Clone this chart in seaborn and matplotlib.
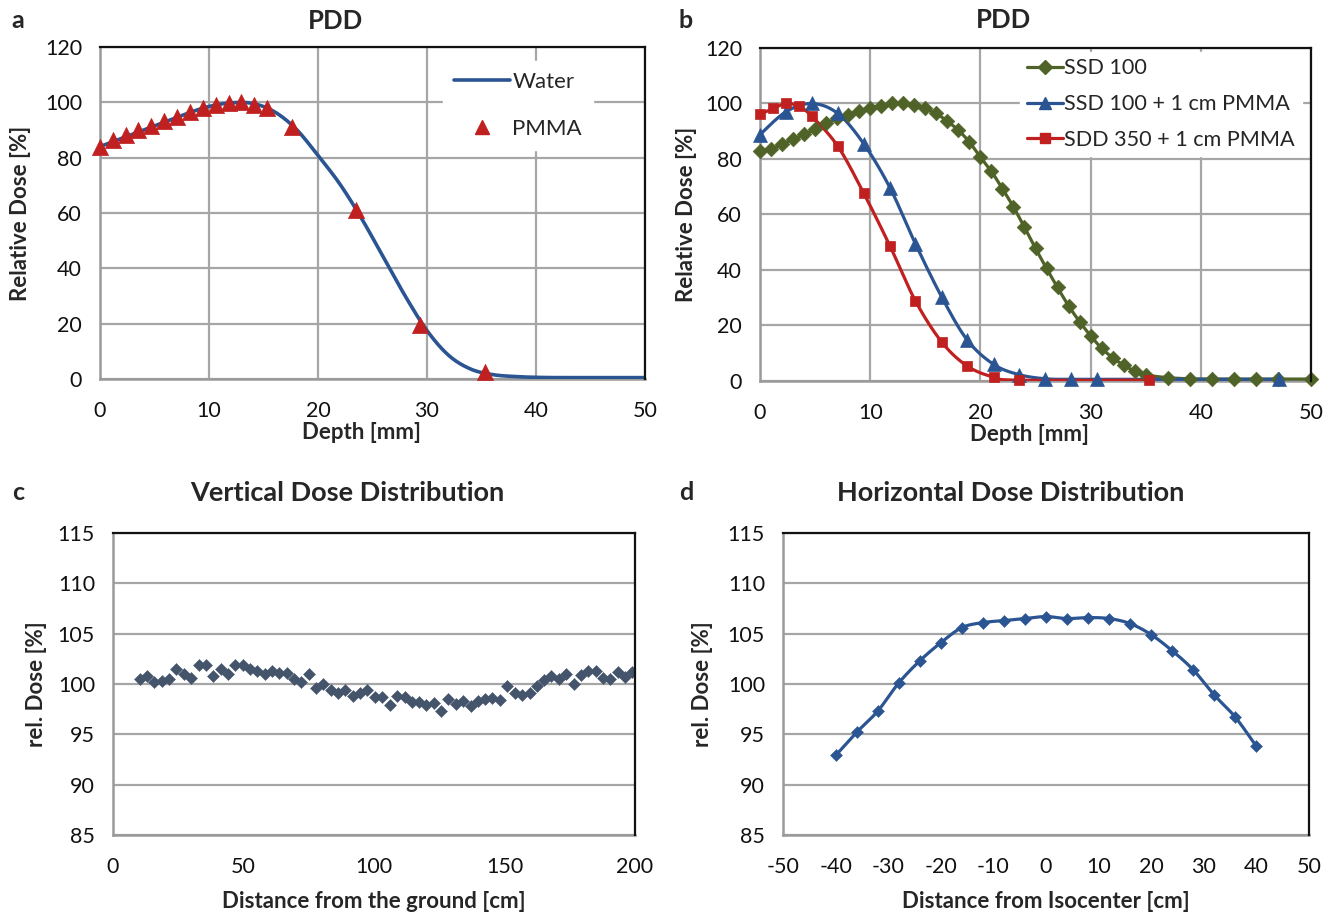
import numpy as np
import matplotlib
matplotlib.use("Agg")
import matplotlib.pyplot as plt
from matplotlib.lines import Line2D
import seaborn as sns

# ---------------- data ----------------
# Panel a: PDD water curve and PMMA points
water_depth = [0, 2, 4, 6, 8, 10, 12, 14, 16, 18, 20, 22, 24, 26, 28, 30, 32, 34, 36, 38, 40, 42, 44, 46, 48, 50]
water_dose = [84, 87, 90, 93, 96, 98.5, 99.8, 99.6, 96.6, 90.3, 80.8, 70.5, 58, 44, 30, 17.5, 8.5, 3.6, 1.6, 0.9, 0.6, 0.5, 0.5, 0.5, 0.5, 0.5]
pmma_depth = [0, 1.18, 2.35, 3.53, 4.7, 5.88, 7.06, 8.23, 9.41, 10.6, 11.8, 12.9, 14.1, 15.3, 17.6, 23.5, 29.4, 35.3]
pmma_dose = [84, 86.4, 88.2, 90, 91.6, 93.2, 94.8, 96.6, 98, 99.2, 99.9, 100.2, 99.2, 97.8, 91.2, 61.2, 19.5, 2.5]

# Panel b: three PDD series
ssd_depth = [0, 1, 2, 3, 4, 5, 6, 7, 8, 9, 10, 11, 12, 13, 14, 15, 16, 17, 18, 19, 20,
             21, 22, 23, 24, 25, 26, 27, 28, 29, 30, 31, 32, 33, 34, 35, 37, 39, 41, 43, 45, 47, 50]
ssd_dose = [82.9, 83.7, 85.3, 87.1, 88.9, 90.7, 92.8, 94.6, 95.8, 97.3, 98.4, 99.2, 100, 100, 99.6,
            98.2, 96.4, 93.6, 90.4, 86.1, 80.7, 75.5, 69.3, 62.7, 55.4, 47.8, 40.6, 33.7, 27.1,
            21.4, 16.3, 11.8, 8.4, 5.7, 3.6, 2.2, 1.2, 0.8, 0.7, 0.7, 0.7, 0.7, 0.7]
pmma1_depth = [0, 2.35, 4.7, 7.06, 9.41, 11.8, 14.1, 16.5, 18.8, 21.2, 23.5, 25.9, 28.2, 30.6, 47.1]
pmma1_dose = [88.8, 97, 100, 96.4, 85.5, 69.6, 49.5, 30.2, 14.8, 6.0, 2.3, 0.8, 0.6, 0.6, 0.6]
sdd_depth = [0, 1.18, 2.35, 3.53, 4.7, 7.06, 9.41, 11.8, 14.1, 16.5, 18.8, 21.2, 23.5, 35.3]
sdd_dose = [96.1, 98.2, 100, 99.0, 95.4, 84.6, 67.7, 48.6, 28.9, 14.0, 5.4, 1.4, 0.3, 0.3]

# Panel c: vertical dose distribution
vert_dist = [10.2, 13.0, 15.8, 18.6, 21.4, 24.3, 27.1, 30.0, 32.8, 35.6, 38.4, 41.2, 44.0, 46.9,
             49.7, 52.5, 55.3, 58.1, 60.9, 63.7, 66.5, 69.3, 72.2, 75.0, 77.8, 80.6, 83.4, 86.2,
             89.0, 91.8, 94.6, 97.5, 100.3, 103.1, 106.0, 108.8, 111.7, 114.5, 117.3, 120.1,
             122.9, 125.7, 128.5, 131.3, 134.1, 137.0, 139.8, 142.6, 145.4, 148.2, 151.0, 153.9,
             156.7, 159.6, 162.4, 165.2, 168.0, 170.8, 173.6, 176.5, 179.3, 182.1, 184.9, 187.7,
             190.5, 193.3, 196.1, 198.9]
vert_dose = [100.53, 100.79, 100.20, 100.26, 100.46, 101.46, 100.96, 100.60, 101.85, 101.85,
             100.76, 101.52, 100.99, 101.85, 101.92, 101.52, 101.32,
             101.03, 101.32, 101.09, 101.09, 100.53, 100.20, 100.96, 99.60, 100.03, 99.37,
             99.11, 99.44, 98.77, 99.11, 99.44, 98.71, 98.71,
             97.95, 98.77, 98.68, 98.18, 98.18, 97.95, 98.11, 97.28, 98.51, 98.01, 98.34,
             97.78, 98.28, 98.54, 98.61, 98.44, 99.77,
             99.11, 98.94, 99.11, 99.83, 100.36, 100.76, 100.53, 101.03, 100.0, 100.93,
             101.32, 101.32, 100.60, 100.50, 101.16, 100.66, 101.16]

# Panel d: horizontal dose distribution
horiz_dist = [-40, -36, -32, -28, -24, -20, -16, -12, -8, -4, 0, 4, 8, 12, 16, 20, 24, 28, 32, 36, 40]
horiz_dose = [92.9, 95.2, 97.3, 100.1, 102.3, 104.1, 105.6, 106.1, 106.3, 106.5, 106.7, 106.5,
              106.6, 106.5, 106.0, 104.9, 103.3, 101.4, 98.9, 96.7, 93.8]

# ---------------- style ----------------
sns.set_theme(style="white")
plt.rcParams['font.family'] = ['Lato', 'DejaVu Sans']
plt.rcParams['axes.unicode_minus'] = False

W, H = 1336, 915
fig = plt.figure(figsize=(W / 100, H / 100), dpi=100)

GRID = '#a6a6a6'
BLUE = '#2b5592'
RED = '#c0201f'
GREEN = '#4f6228'
SLATE = '#44546a'


def add_axes(l, t, r, b):
    return fig.add_axes([l / W, 1 - b / H, (r - l) / W, (b - t) / H])


def smooth(x, y, n=24):
    """Excel-like smoothed line (Catmull-Rom through the data points)."""
    p = np.column_stack([x, y]).astype(float)
    P = np.vstack([p[0], p, p[-1]])
    out = []
    t = np.linspace(0, 1, n, endpoint=False)[:, None]
    for i in range(len(p) - 1):
        p0, p1, p2, p3 = P[i], P[i + 1], P[i + 2], P[i + 3]
        seg = 0.5 * (2 * p1 + (-p0 + p2) * t + (2 * p0 - 5 * p1 + 4 * p2 - p3) * t ** 2
                     + (-p0 + 3 * p1 - 3 * p2 + p3) * t ** 3)
        out.append(seg)
    out.append(p[-1][None, :])
    s = np.vstack(out)
    return s[:, 0], s[:, 1]


def style_axes(ax, xlim, ylim, xticks, yticks, vgrid):
    ax.set_xlim(*xlim)
    ax.set_ylim(*ylim)
    ax.set_xticks(xticks)
    ax.set_yticks(yticks)
    ax.set_facecolor('white')
    ax.grid(False)
    for y in yticks:
        ax.axhline(y, color=GRID, lw=1.6, zorder=0.5)
    if vgrid:
        for x in xticks:
            ax.axvline(x, color=GRID, lw=1.6, zorder=0.5)
    for s in ['top', 'right']:
        ax.spines[s].set_color('#111111')
        ax.spines[s].set_linewidth(1.6)
        ax.spines[s].set_zorder(6)
    for s in ['left', 'bottom']:
        ax.spines[s].set_color('#9a9a9a')
        ax.spines[s].set_linewidth(1.8)
    ax.tick_params(axis='both', length=0, labelsize=15.5, colors='#111111')
    ax.tick_params(axis='x', pad=16)
    ax.tick_params(axis='y', pad=13)


LABEL_FS = 16
PDD_FS = 18.5
TITLE_FS = 19.5

# ---------------- panel a ----------------
axA = add_axes(100, 47, 645, 379)
style_axes(axA, (0, 50), (0, 120), range(0, 51, 10), range(0, 121, 20), True)
wx, wy = smooth(water_depth, water_dose)
sns.lineplot(x=wx, y=wy, ax=axA, color=BLUE, lw=2.6, sort=False, estimator=None, zorder=3)
sns.scatterplot(x=pmma_depth, y=pmma_dose, ax=axA, marker='^', s=135, color=RED,
                edgecolor=RED, linewidth=0.5, zorder=4, clip_on=False)
axA.set_title('PDD', fontsize=PDD_FS, fontweight='bold', x=(336 - 100) / 545, y=1.055, pad=0)
axA.set_xlabel('Depth [mm]', fontsize=LABEL_FS, fontweight='bold')
axA.set_ylabel('Relative Dose [%]', fontsize=LABEL_FS, fontweight='bold')
axA.xaxis.set_label_coords((362 - 100) / 545, (379 - 422) / 332)
axA.yaxis.set_label_coords((31 - 100) / 545, 0.5)
hA = [Line2D([], [], color=BLUE, lw=2.6),
      Line2D([], [], color=RED, marker='^', ls='none', ms=10.5)]
legA = axA.legend(hA, ['Water', 'PMMA'], loc='upper left', bbox_to_anchor=((443 - 100) / 545, 1 - (61 - 47) / 332),
                  frameon=True, fontsize=16, handlelength=2.5, handletextpad=0.12, labelspacing=1.2,
                  borderpad=0.5, borderaxespad=0)
legA.get_frame().set_facecolor('white')
legA.get_frame().set_edgecolor('white')
legA.get_frame().set_alpha(1)

# ---------------- panel b ----------------
axB = add_axes(760, 48, 1311, 381)
style_axes(axB, (0, 50), (0, 120), range(0, 51, 10), range(0, 121, 20), True)
for dx, dy, col, mk, ms in [(ssd_depth, ssd_dose, GREEN, 'D', 55),
                            (pmma1_depth, pmma1_dose, BLUE, '^', 100),
                            (sdd_depth, sdd_dose, RED, 's', 62)]:
    sx, sy = smooth(dx, dy)
    sns.lineplot(x=sx, y=sy, ax=axB, color=col, lw=2.3, sort=False, estimator=None, zorder=3)
    sns.scatterplot(x=dx, y=dy, ax=axB, marker=mk, s=ms, color=col, edgecolor=col,
                    linewidth=0.5, zorder=4, clip_on=False)
axB.set_title('PDD', fontsize=PDD_FS, fontweight='bold', x=(1004 - 760) / 551, y=1 + (48 - 28) / 333, pad=0)
axB.set_xlabel('Depth [mm]', fontsize=LABEL_FS, fontweight='bold')
axB.set_ylabel('Relative Dose [%]', fontsize=LABEL_FS, fontweight='bold')
axB.xaxis.set_label_coords((1030 - 760) / 551, (381 - 424) / 333)
axB.yaxis.set_label_coords((697 - 760) / 551, 0.5)
hB = [Line2D([], [], color=GREEN, lw=2.3, marker='D', ms=7),
      Line2D([], [], color=BLUE, lw=2.3, marker='^', ms=9),
      Line2D([], [], color=RED, lw=2.3, marker='s', ms=7)]
legB = axB.legend(hB, ['SSD 100', 'SSD 100 + 1 cm PMMA', 'SDD 350 + 1 cm PMMA'], loc='upper left',
                  bbox_to_anchor=((1020 - 760) / 551, 1 - (52 - 48) / 333),
                  frameon=True, fontsize=15.6, handlelength=1.7, handletextpad=0.05, labelspacing=0.72,
                  borderpad=0.3, borderaxespad=0)
legB.get_frame().set_facecolor('white')
legB.get_frame().set_edgecolor('white')
legB.get_frame().set_alpha(1)

# ---------------- panel c ----------------
axC = add_axes(113, 533, 635, 835)
style_axes(axC, (0, 200), (85, 115), range(0, 201, 50), range(85, 116, 5), False)
sns.scatterplot(x=vert_dist, y=vert_dose, ax=axC, marker='D', s=38, color=SLATE,
                edgecolor=SLATE, linewidth=0.3, zorder=4)
axC.set_title('Vertical Dose Distribution', fontsize=TITLE_FS, fontweight='bold',
              x=(347 - 113) / 522, y=1 + (533 - 501) / 302, pad=0)
axC.set_xlabel('Distance from the ground [cm]', fontsize=LABEL_FS, fontweight='bold')
axC.set_ylabel('rel. Dose [%]', fontsize=LABEL_FS, fontweight='bold')
axC.xaxis.set_label_coords((374 - 113) / 522, (835 - 891) / 302)
axC.yaxis.set_label_coords((47 - 113) / 522, 0.5)

# ---------------- panel d ----------------
axD = add_axes(783, 533, 1309, 835)
style_axes(axD, (-50, 50), (85, 115), range(-50, 51, 10), range(85, 116, 5), False)
sx, sy = smooth(horiz_dist, horiz_dose)
sns.lineplot(x=sx, y=sy, ax=axD, color=BLUE, lw=2.3, sort=False, estimator=None, zorder=3)
sns.scatterplot(x=horiz_dist, y=horiz_dose, ax=axD, marker='D', s=38, color=BLUE,
                edgecolor=BLUE, linewidth=0.3, zorder=4)
axD.set_title('Horizontal Dose Distribution', fontsize=TITLE_FS, fontweight='bold',
              x=(1011 - 783) / 526, y=1 + (533 - 501) / 302, pad=0)
axD.set_xlabel('Distance from Isocenter [cm]', fontsize=LABEL_FS, fontweight='bold')
axD.set_ylabel('rel. Dose [%]', fontsize=LABEL_FS, fontweight='bold')
axD.xaxis.set_label_coords((1046 - 783) / 526, (835 - 891) / 302)
axD.yaxis.set_label_coords((713 - 783) / 526, 0.5)

# panel letters
for letter, (px, py) in zip('abcd', [(18, 20), (686, 20), (18, 492), (686, 492)]):
    fig.text(px / W, 1 - py / H, letter, fontsize=18, fontweight='bold', ha='center', va='center')

fig.savefig('out.png', dpi=100, facecolor='white')
